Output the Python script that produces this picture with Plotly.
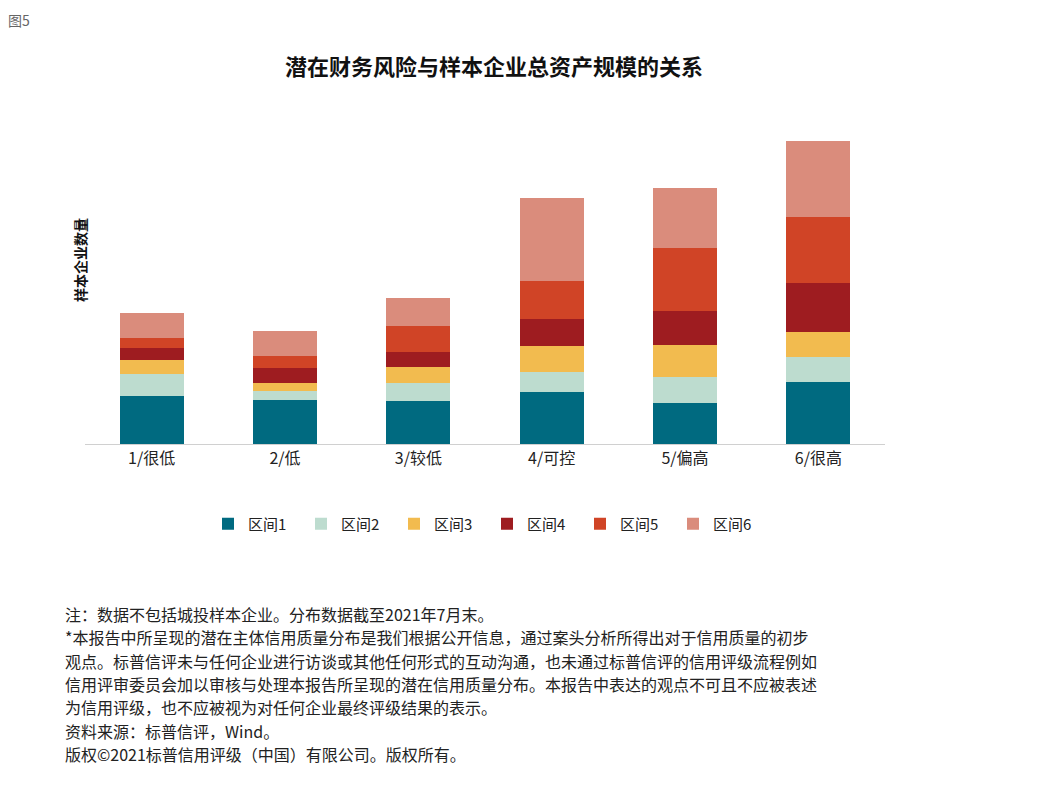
import plotly.graph_objects as go

categories = ["1/很低", "2/低", "3/较低", "4/可控", "5/偏高", "6/很高"]
series_names = ["区间1", "区间2", "区间3", "区间4", "区间5", "区间6"]
s1 = [48, 44, 43, 52, 41, 62]
s2 = [22, 9, 18, 20, 26, 25]
s3 = [14, 8, 16, 26, 32, 25]
s4 = [12, 15, 15, 27, 34, 49]
s5 = [10, 12, 26, 38, 63, 66]
s6 = [25, 25, 28, 83, 60, 76]
colors = ["#006a80", "#bddccf", "#f2bb4f", "#9e1c20", "#d04426", "#da8c7c"]

font = "Noto Sans CJK SC"
fig = go.Figure()
for name, vals, c in zip(series_names, [s1, s2, s3, s4, s5, s6], colors):
    fig.add_trace(go.Bar(x=categories, y=vals, name=name, marker_color=c, marker_line_width=0))

note_lines = ["注：数据不包括城投样本企业。分布数据截至2021年7月末。",
              "*本报告中所呈现的潜在主体信用质量分布是我们根据公开信息，通过案头分析所得出对于信用质量的初步",
              "观点。标普信评未与任何企业进行访谈或其他任何形式的互动沟通，也未通过标普信评的信用评级流程例如",
              "信用评审委员会加以审核与处理本报告所呈现的潜在信用质量分布。本报告中表达的观点不可且不应被表述",
              "为信用评级，也不应被视为对任何企业最终评级结果的表示。",
              "资料来源：标普信评，Wind。",
              "版权©2021标普信用评级（中国）有限公司。版权所有。"]

W, H = 1043, 805
L, R, T, B = 77, 166, 122, 369
pw, ph = W - L - R, H - T - B

def px(x, y):
    # convert page pixel (after 8px body offset) to paper coords
    return ((x - 8 - L) / pw, 1 - (y - 8 - T) / ph)

anns = []
x0, y0 = px(6, 20)
anns.append(dict(text="图5", xref="paper", yref="paper", x=x0, y=y0, xanchor="left", yanchor="middle",
                 showarrow=False, font=dict(size=14, color="#666")))
x0, y0 = px(68, 260)
anns.append(dict(text="<b>样本企业数量</b>", xref="paper", yref="paper", x=x0, y=y0, textangle=-90,
                 showarrow=False, font=dict(size=14, color="#111")))
for i, line in enumerate(note_lines):
    x0, y0 = px(63, 614 + i * 23.3)
    anns.append(dict(text=line, xref="paper", yref="paper", x=x0, y=y0, xanchor="left", yanchor="middle",
                     showarrow=False, font=dict(size=16, color="#222")))
tx, ty = px(494, 67)
lx, ly = px(487, 524)

fig.update_layout(
    width=W, height=H, barmode="stack", bargap=0.52,
    paper_bgcolor="white", plot_bgcolor="white",
    font=dict(family=font, color="#222", size=14),
    margin=dict(l=L, r=R, t=T, b=B),
    title=dict(text="<b>潜在财务风险与样本企业总资产规模的关系</b>", x=(494 - 8) / W, xanchor="center",
               y=1 - (67 - 8) / H, yanchor="middle", font=dict(size=22, color="#111")),
    xaxis=dict(showline=True, linecolor="#d0d0d0", ticks="", tickfont=dict(size=16)),
    yaxis=dict(visible=False, range=[0, 314]),
    legend=dict(orientation="h", x=lx, xanchor="center", y=ly, yanchor="middle",
                font=dict(size=15), traceorder="normal", entrywidth=48, itemwidth=30),
    annotations=anns,
)
fig.write_html("out.html")
